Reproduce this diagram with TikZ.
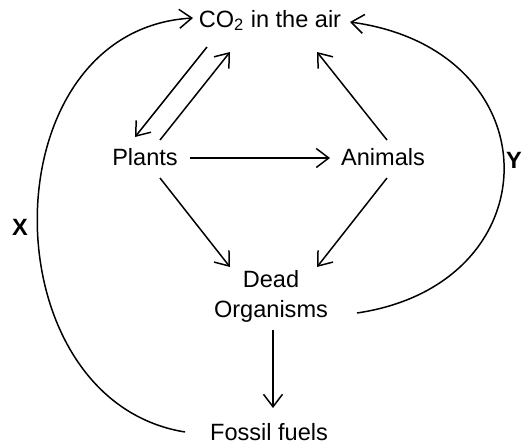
\documentclass[tikz,border=0pt]{standalone}
\usepackage{fontspec}
\setmainfont{Liberation Sans}
\usetikzlibrary{arrows.meta}

\begin{document}
\begin{tikzpicture}[
    x=0.2mm, y=-0.2mm,
    lbl/.style={anchor=base, inner sep=0pt, font=\fontsize{13.4}{17}\selectfont},
    tag/.style={anchor=base, inner sep=0pt, font=\fontsize{13.4}{17}\selectfont\bfseries},
    arr/.style={-{Straight Barb[length=2.5mm, width=3.8mm]}, line width=0.85pt}]
  \useasboundingbox (0,0) rectangle (523,445);

  \node[lbl] (co2)     at (270,27)  {CO\textsubscript{2} in the air};
  \node[lbl] (plants)  at (145,165) {Plants};
  \node[lbl] (animals) at (383,165) {Animals};
  \node[lbl, anchor=center, align=center] (dead) at (271,296) {Dead\\Organisms};
  \node[lbl] (fossil)  at (269,440) {Fossil fuels};
  \node[tag] (x) at (20,235)  {X};
  \node[tag] (y) at (514,168) {Y};

  % photosynthesis / respiration pair
  \draw[arr] ([shift={(-63,20)}]co2.base) -- ([shift={(-10,-28)}]plants.base);
  \draw[arr] ([shift={(15,-25)}]plants.base) -- ([shift={(-40,25)}]co2.base);
  \draw[arr] ([shift={(4,-25)}]animals.base) -- ([shift={(47,25)}]co2.base);

  \draw[arr] ([shift={(45,-7)}]plants.base) -- ([shift={(-53,-7)}]animals.base);
  \draw[arr] ([shift={(15,13)}]plants.base) -- ([shift={(-41,-29)}]dead.center);
  \draw[arr] ([shift={(4,13)}]animals.base) -- ([shift={(46,-29)}]dead.center);
  \draw[arr] ([shift={(2,34)}]dead.center) -- ([shift={(4,-32)}]fossil.base);

  % long loops X and Y
  \draw[arr] ([shift={(-84,-8)}]fossil.base)
      .. controls +(-198,-32) and +(-206,12) .. ([shift={(-77,-9)}]co2.base);
  \draw[arr] ([shift={(86,17)}]dead.center)
      .. controls +(197,-29) and +(204,28) .. ([shift={(80,-5)}]co2.base);
\end{tikzpicture}
\end{document}
